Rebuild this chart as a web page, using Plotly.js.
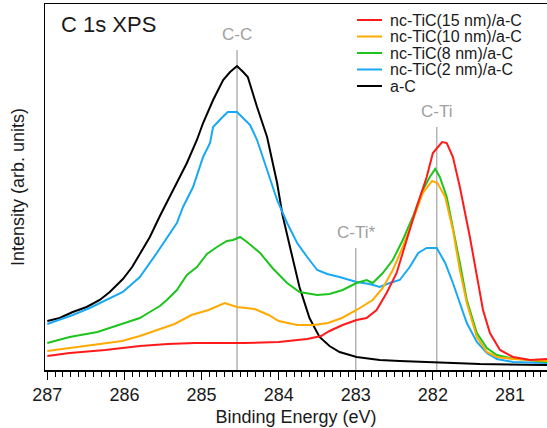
<!DOCTYPE html>
<html>
<head>
<meta charset="utf-8">
<script src="https://cdn.plot.ly/plotly-3.0.1.min.js"></script>
<style>html,body{margin:0;padding:0;background:#fff}#chart{width:547px;height:428px}</style>
</head>
<body>
<div id="chart"></div>
<script>
// Series names and colours
const seriesNames = ["nc-TiC(15 nm)/a-C", "nc-TiC(10 nm)/a-C", "nc-TiC(8 nm)/a-C", "nc-TiC(2 nm)/a-C", "a-C"];
const seriesColors = ["#ff1a1a", "#ffaa00", "#1ec41e", "#18a8f5", "#000000"];

// Binding energy (eV) and intensity (arb. units)
const red_E = [287.0,286.71,286.25,285.80,285.44,285.09,284.45,284.00,283.63,283.45,283.34,283.17,282.99,282.86,282.73,282.60,282.47,282.34,282.21,282.08,282.00,281.88,281.82,281.74,281.65,281.52,281.43,281.35,281.26,281.13,280.96,280.74,280.52];
const red_I = [14,17,20,24,26,27,27,28,31,34,39,45,50,52,60,77,97,130,163,193,217,228,227,213,183,133,93,60,37,20,13,10,11];

const orange_E = [287.0,286.71,286.35,286.03,285.80,285.54,285.35,285.13,284.91,284.70,284.54,284.31,284.13,284.00,283.76,283.54,283.36,283.18,282.99,282.78,282.65,282.52,282.39,282.26,282.13,282.01,281.94,281.84,281.74,281.65,281.56,281.43,281.30,281.17,280.96,280.52];
const orange_I = [19,22,26,29,34,41,46,55,60,67,63,61,55,49,45,45,47,52,60,70,82,100,123,150,177,189,187,173,140,100,67,33,18,13,11,9];

const green_E = [287.0,286.71,286.35,286.03,285.80,285.67,285.54,285.45,285.32,285.19,285.06,284.93,284.80,284.67,284.59,284.50,284.41,284.24,284.08,283.89,283.73,283.50,283.34,283.17,282.99,282.86,282.78,282.65,282.52,282.39,282.26,282.13,282.04,281.97,281.91,281.82,281.74,281.65,281.56,281.43,281.30,281.17,281.00,280.74,280.52];
const green_I = [27,33,38,46,52,58,64,70,80,95,103,116,123,129,130,133,128,117,102,87,78,75,76,80,87,90,87,97,110,130,153,180,193,201,193,173,143,107,70,37,22,15,12,10,8];

const blue_E = [287.0,286.84,286.67,286.45,286.23,286.02,285.80,285.58,285.32,285.24,285.11,284.98,284.89,284.85,284.74,284.66,284.54,284.46,284.37,284.28,284.15,284.02,283.89,283.76,283.63,283.50,283.37,283.21,282.99,282.82,282.69,282.56,282.43,282.30,282.19,282.08,281.95,281.84,281.74,281.65,281.56,281.43,281.30,281.17,280.96,280.52];
const blue_I = [46,50,55,62,70,78,93,117,147,163,183,213,227,243,252,258,258,252,245,230,200,170,147,127,113,100,96,93,88,86,83,87,90,103,117,122,122,107,87,67,47,28,17,11,8,7];

const black_E = [287.0,286.84,286.67,286.49,286.32,286.19,286.02,285.90,285.80,285.67,285.54,285.37,285.19,285.06,284.98,284.85,284.72,284.63,284.54,284.46,284.40,284.28,284.15,284.02,283.95,283.85,283.73,283.60,283.47,283.34,283.21,282.99,282.69,282.43,281.95,281.39,280.52];
const black_I = [49,52,58,63,70,78,91,103,116,133,154,180,207,230,247,270,290,298,304,298,293,263,233,187,155,122,83,52,33,24,18,13,10,9,7.5,6,5];

// Peak reference lines
const peakNames = ["C-C", "C-Ti*", "C-Ti"];
const peakE = [284.54, 283.0, 281.95];
const peakTop = [320, 122, 243];

// X tick values
const xTicks = [287, 286, 285, 284, 283, 282, 281];

const xs = [red_E, orange_E, green_E, blue_E, black_E];
const ys = [red_I, orange_I, green_I, blue_I, black_I];

const order = [4, 3, 2, 1, 0];
const traces = order.map(i => ({
  x: xs[i], y: ys[i], type: "scatter", mode: "lines", name: seriesNames[i],
  line: {color: seriesColors[i], width: 2}, showlegend: false, hoverinfo: "skip"
}));

const W = 547, H = 428, ml = 45, mr = 0, mt = 4, mb = 58;
const pw = W - ml - mr, ph = H - mt - mb;
const px = v => (v - ml) / pw;
const py = v => (H - mb - v) / ph;

const shapes = [];
const annotations = [];

peakE.forEach((e, k) => {
  shapes.push({type: "line", xref: "x", yref: "y", x0: e, x1: e, y0: 0, y1: peakTop[k],
    line: {color: "#b4b4b4", width: 1.5}, layer: "below"});
  annotations.push({xref: "x", yref: "y", x: e, y: peakTop[k] + 4, text: peakNames[k], showarrow: false,
    xanchor: "center", yanchor: "bottom", font: {family: "Liberation Sans, Arial, sans-serif", size: 17, color: "#a0a0a0"}});
});

// legend drawn as rows
const rowY = [20, 36.5, 53, 69.5, 86];
seriesNames.forEach((n, i) => {
  shapes.push({type: "line", xref: "paper", yref: "paper", x0: px(357), x1: px(382), y0: py(rowY[i]), y1: py(rowY[i]),
    line: {color: seriesColors[i], width: 2}});
  annotations.push({xref: "paper", yref: "paper", x: px(388), y: py(rowY[i]), text: n, showarrow: false,
    xanchor: "left", yanchor: "middle", font: {family: "Liberation Sans, Arial, sans-serif", size: 16, color: "#1a1a1a"}});
});

annotations.push({xref: "paper", yref: "paper", x: px(59), y: py(25), text: "C 1s XPS", showarrow: false,
  xanchor: "left", yanchor: "middle", font: {family: "Liberation Sans, Arial, sans-serif", size: 22, color: "#1a1a1a"}});

const layout = {
  width: W, height: H,
  margin: {l: ml, r: mr, t: mt, b: mb},
  paper_bgcolor: "#ffffff", plot_bgcolor: "#ffffff",
  font: {family: "Liberation Sans, Arial, sans-serif", color: "#1a1a1a"},
  xaxis: {
    range: [287.03, 280.52], tickvals: xTicks, ticktext: xTicks.map(String),
    ticks: "outside", ticklen: 8, tickwidth: 1, tickcolor: "#000",
    minor: {dtick: 0.1, ticks: "outside", ticklen: 5, tickwidth: 1, tickcolor: "#000", showgrid: false},
    showline: true, linecolor: "#000", linewidth: 1.5, mirror: true,
    showgrid: false, zeroline: false,
    tickfont: {size: 18, color: "#1a1a1a"},
    title: {text: "Binding Energy (eV)", font: {size: 18, color: "#1a1a1a"}, standoff: 6}
  },
  yaxis: {
    range: [0, 366], showticklabels: false, ticks: "", showgrid: false, zeroline: false,
    showline: true, linecolor: "#000", linewidth: 1.5, mirror: false,
    title: {text: "Intensity (arb. units)", font: {size: 18, color: "#1a1a1a"}, standoff: 14}
  },
  shapes: shapes,
  annotations: annotations,
  showlegend: false
};

Plotly.newPlot("chart", traces, layout, {displayModeBar: false, staticPlot: true});
</script>
</body>
</html>
